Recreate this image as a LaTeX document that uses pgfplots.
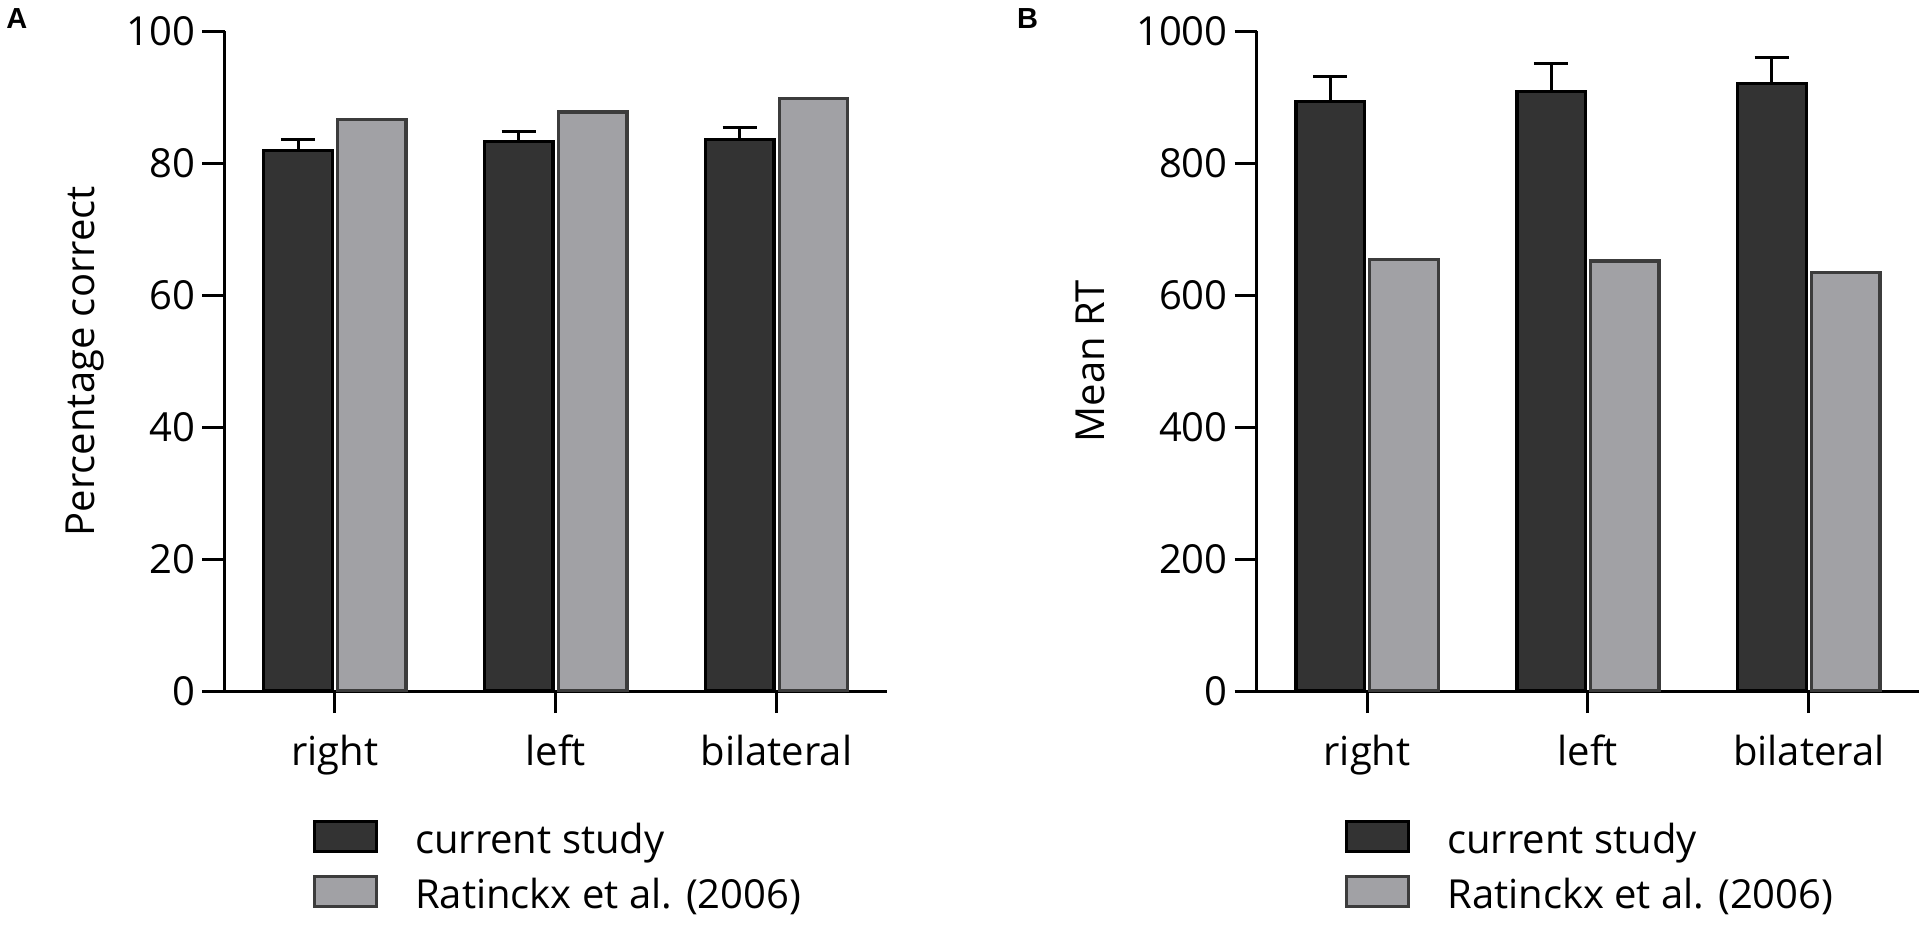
\documentclass[border=0pt]{standalone}
\usepackage{pgfplots}
\pgfplotsset{compat=1.18}
\usepackage{fontspec}
\setmainfont{Open Sans}
\newfontfamily\panelfont{Liberation Sans}
\definecolor{darkbar}{HTML}{333333}
\definecolor{graybar}{HTML}{A1A1A5}
\definecolor{grayedge}{HTML}{3C3C3C}
\pgfplotsset{
  mylegend/.style={legend image code/.code={\draw[##1] (0bp,-4bp) rectangle (31bp,11bp);}},
  mystyle/.style={
    scale only axis, width=331.25bp, height=329.75bp,
    ybar, bar width=0.31,
    xmin=-0.5, xmax=2.5, ymin=0,
    axis x line*=bottom, axis y line*=left,
    axis line style={line width=1.5bp, black},
    every tick/.style={line width=1.5bp, black},
    tick align=outside, major tick length=11bp,
    xtick={0,1,2}, xticklabels={right,left,bilateral},
    /pgf/number format/assume math mode=true,
    /pgf/number format/1000 sep={},
    tick label style={font=\fontsize{20bp}{24bp}\selectfont},
    xticklabel style={anchor=base, yshift=-26bp},
    label style={font=\fontsize{20bp}{24bp}\selectfont},
    legend style={draw=none, fill=none, inner sep=0pt, outer sep=0pt,
      at={(axis description cs:0.1333,-0.195)}, anchor=north west,
      font=\fontsize{20bp}{24bp}\selectfont, row sep=5.9bp,
      nodes={inner sep=0pt, text height=15bp, text depth=5bp},
      /tikz/every odd column/.append style={column sep=18.5bp}},
    legend cell align=left,
    error bars/y dir=plus, error bars/y explicit,
    error bars/error bar style={line width=1.5bp, black},
    error bars/error mark options={rotate=90, line width=1.5bp, black, mark size=8.6bp},
  },
  darkplot/.style={fill=darkbar, draw=black, line width=1.65bp, bar shift=-0.167, mylegend},
  grayplot/.style={fill=graybar, draw=grayedge, line width=1.65bp, bar shift=0.167, mylegend},
}
\begin{document}
\begin{tikzpicture}
\useasboundingbox (0,0) rectangle (962bp,466bp);
\node[anchor=base west, inner sep=0pt, font=\panelfont\bfseries\fontsize{14.5bp}{16bp}\selectfont] at (3bp,451.85bp) {A};
\node[anchor=base west, inner sep=0pt, font=\panelfont\bfseries\fontsize{14.5bp}{16bp}\selectfont] at (508.3bp,451.85bp) {B};
\begin{axis}[mystyle, at={(112.25bp,120.5bp)}, anchor=south west,
  ymax=100, ytick={0,20,40,60,80,100},
  ylabel={Percentage correct},
  ylabel style={at={(axis description cs:-0.1955,0.5)}, anchor=base}]
\addplot[darkplot] coordinates {(0,82.0) +- (0,1.6) (1,83.3) +- (0,1.6) (2,83.6) +- (0,1.8)};
\addplot[grayplot, error bars/y dir=none] coordinates {(0,86.7) (1,87.8) (2,89.8)};
\legend{current study, Ratinckx et al. (2006)}
\end{axis}
\begin{axis}[mystyle, at={(628.35bp,120.5bp)}, anchor=south west,
  ymax=1000, ytick={0,200,400,600,800,1000},
  ylabel={Mean RT},
  ylabel style={at={(axis description cs:-0.2305,0.5)}, anchor=base}]
\addplot[darkplot] coordinates {(0,894) +- (0,37) (1,909) +- (0,43) (2,921) +- (0,39)};
\addplot[grayplot, error bars/y dir=none] coordinates {(0,654) (1,652) (2,635)};
\legend{current study, Ratinckx et al. (2006)}
\end{axis}
\end{tikzpicture}
\end{document}
